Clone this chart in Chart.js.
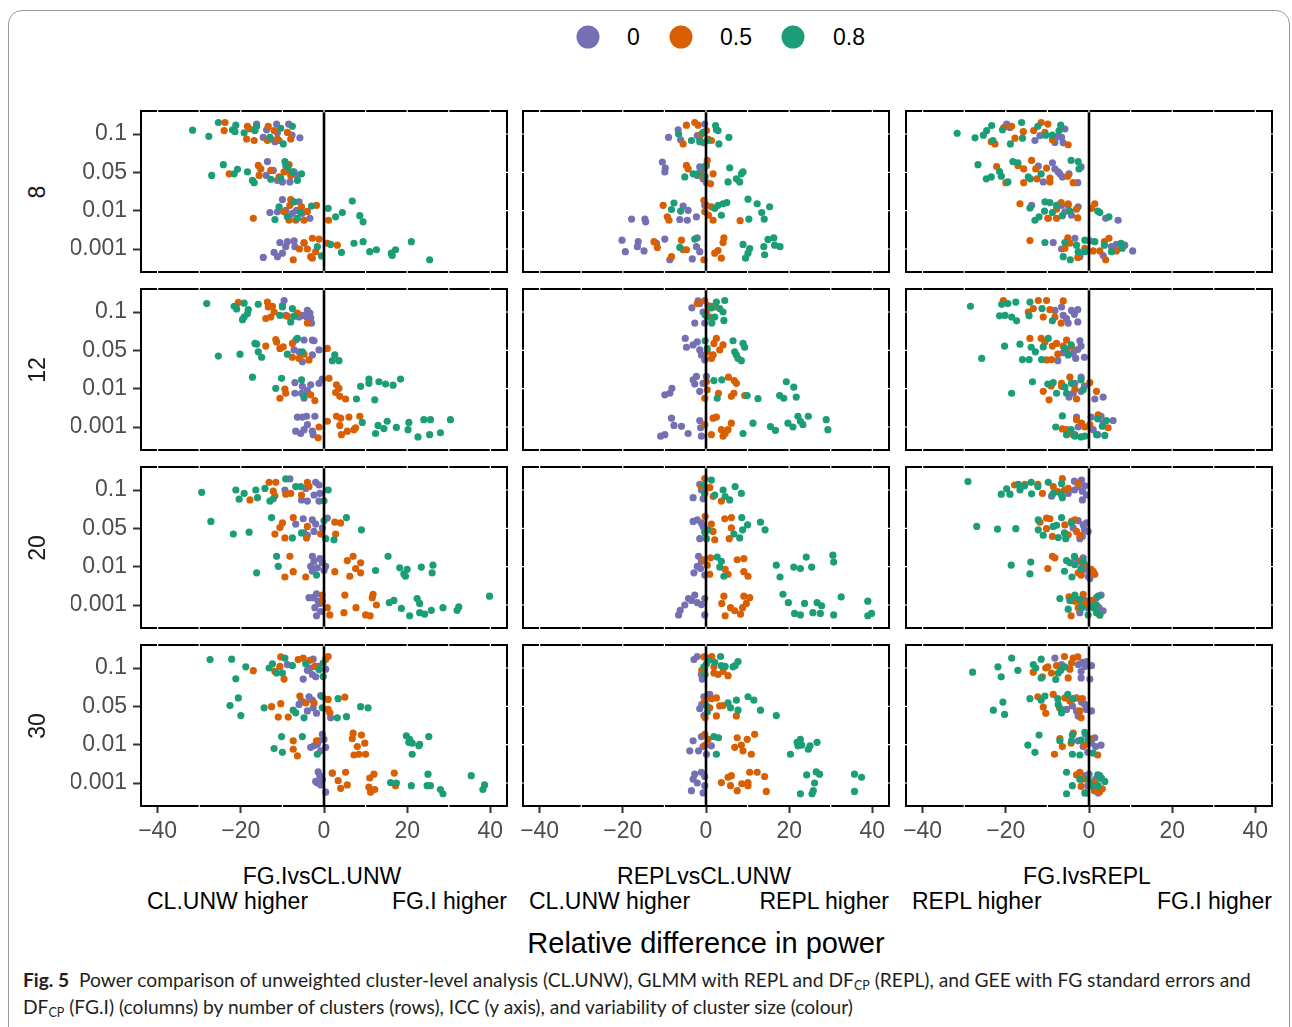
<!DOCTYPE html>
<html>
<head>
<meta charset="utf-8">
<script src="https://cdn.jsdelivr.net/npm/chart.js@4.4.1/dist/chart.umd.min.js"></script>
<style>
  body { margin: 0; width: 1292px; height: 1027px; background: #fff; position: relative; overflow: hidden;
         font-family: "Liberation Sans", Arial, sans-serif; }
  #frame { position: absolute; left: 8px; top: 10px; width: 1282px; height: 1040px; border: 1px solid #9a9a9a;
           border-radius: 14px; box-sizing: border-box; }
  canvas { position: absolute; }
  .txt { position: absolute; white-space: nowrap; line-height: 1; }
  .dot { position: absolute; width: 23px; height: 23px; border-radius: 50%; transform: translate(-50%, -50%); }
  #cap { position: absolute; left: 23px; top: 966px; font-family: Lato, "Open Sans", sans-serif; font-size: 19.2px;
         line-height: 27px; color: #231f20; white-space: nowrap; }
  #cap sub { font-size: 12.5px; vertical-align: -3px; line-height: 0; }
</style>
</head>
<body>
<div id="frame"></div>
<div id="cap"><b>Fig. 5</b>&nbsp; Power comparison of unweighted cluster-level analysis (CL.UNW), GLMM with REPL and DF<sub>CP</sub> (REPL), and GEE with FG standard errors and<br>DF<sub>CP</sub> (FG.I) (columns) by number of clusters (rows), ICC (y axis), and variability of cluster size (colour)</div>
<script>
// facets, categories and tick labels
const clusterRows = ['8', '12', '20', '30'];
const comparisons = ['FG.IvsCL.UNW', 'REPLvsCL.UNW', 'FG.IvsREPL'];
const higherLeft = ['CL.UNW higher', 'CL.UNW higher', 'REPL higher'];
const higherRight = ['FG.I higher', 'REPL higher', 'FG.I higher'];
const iccLevels = ['0.1', '0.05', '0.01', '0.001'];
const sizeGroups = ['0', '0.5', '0.8'];
const groupColours = ['#7570B3', '#D95F02', '#1B9E77'];
const xTicks = [-40, -20, 0, 20, 40];
const refLine = 0;

// points: [relative difference, jittered ICC position (1 = 0.1 ... 4 = 0.001)]
const n8_FGvsCL_cv0 = [[-16.2,0.74],[-13.8,0.89],[-14.6,1.09],[-11.4,0.74],[-11.2,0.97],[-11.8,1.2],[-8.5,0.74],[-7.7,1.03],[-5.8,1.1],[-10.8,1.17],[-12.8,1.13],
  [-13.6,1.72],[-13.9,2.08],[-12.2,1.95],[-11.2,2.21],[-10,2.25],[-8.2,2.25],[-7.2,1.99],[-9.2,1.82],[-6.4,2.08],
  [-10,2.71],[-13,3.05],[-11.2,3.03],[-9.2,2.99],[-7.6,3.07],[-6,2.77],[-5.2,3.07],[-3.4,3.2],[-6.6,2.99],[-8.4,3.16],
  [-10.6,3.83],[-8.8,3.81],[-7.2,3.79],[-9.2,3.94],[-12,4.09],[-11.2,4.2],[-10,4.11],[-14.6,4.22],[-4.8,3.85],[-7,3.94]];
const n8_FGvsCL_cv05 = [[-23.8,0.7],[-24,0.91],[-18.4,0.8],[-17.8,0.87],[-18.6,1.13],[-16.8,1.17],[-13.6,1.17],[-13.4,0.8],[-12,0.91],[-11.2,1.13],[-8,1.13],[-8.8,0.96],
  [-22.8,2.04],[-15.8,1.82],[-15.2,1.91],[-15.6,2.08],[-12.8,1.95],[-10.8,2.12],[-9.6,1.99],[-8.4,1.8],[-8,2.08],[-8.8,1.95],
  [-17,3.2],[-8,2.71],[-8.2,2.86],[-5.4,2.9],[-4,3.02],[-1.8,2.86],[1.1,3.25],[-8.4,3.25],[-6.8,3.25],[-4.8,3.25],[-9.6,3.03],
  [-2.8,3.72],[-1.2,3.74],[0.8,3.85],[3.2,3.9],[-4.8,3.83],[-5.9,4.0],[-4,4.0],[-2,4.07],[-2.8,4.24],[-3.2,4.2],[-7.4,4.28]];
const n8_FGvsCL_cv08 = [[-31.6,0.9],[-27.7,1.06],[-25.4,0.7],[-22,0.89],[-21.2,0.77],[-21.4,0.94],[-19.2,0.97],[-16.6,0.91],[-16.2,0.8],[-13,1.09],[-10.4,0.85],[-9.8,1.26],[-7.6,0.8],
  [-24.2,1.8],[-27,2.08],[-20.8,1.92],[-21.6,2.04],[-18.4,1.99],[-17.2,2.21],[-16.8,2.27],[-12.8,2.18],[-9.4,1.72],[-10.4,2.15],[-7.6,1.99],[-5.4,2.04],[-6.4,2.21],[-8.8,1.86],
  [6.8,2.75],[1,2.94],[4.4,3.05],[2.8,3.16],[8.6,3.13],[9.4,3.29],[-3,2.88],[-5.6,3.05],[-10.8,2.9],[-11.8,3.23],[-8.8,3.16],[-7.2,2.77],[-6.4,3.2],
  [-1.6,3.94],[-0.6,4.18],[1.6,3.88],[4.2,4.09],[7.2,3.85],[9.4,3.81],[11,4.07],[12.6,4.02],[16.2,4.11],[17.2,4.02],[16.4,4.17],[21,3.81],[25.4,4.28]];

const n8_REPLvsCL_cv0 = [[-9,1.09],[-6.7,0.89],[-6.1,1.15],[-2.1,1.04],[-0.3,0.74],[-0.5,1.23],[-1.5,1.13],
  [-10.5,1.73],[-9.8,1.89],[-9.9,1.99],[-1.5,1.86],[-2.1,2.08],[-0.7,2.17],[0.1,2.27],[-1.1,1.95],
  [-17.9,3.22],[-14.7,3.22],[-14.5,3.29],[-6.3,3.23],[-4.5,3.25],[-2.3,3.16],[-5.5,2.88],[-4.3,2.99],[-0.3,2.86],
  [-20.2,3.77],[-19.4,4.07],[-16.3,3.81],[-16.5,3.94],[-14.9,4.05],[-9.9,3.74],[-11.9,3.85],[-8.7,4.28],[-3.3,4.26],[-2.1,3.71],[-2.3,3.94],[-1.5,4.07]];
const n8_REPLvsCL_cv05 = [[-4.7,0.77],[-2.7,0.7],[-1.9,0.77],[0.5,1.13],[1.3,1.17],[-5.5,1.26],[-1.1,1.0],[0.1,0.91],
  [-4.7,1.82],[-4.3,1.91],[0.3,1.69],[0.1,1.82],[1.7,2.04],[1.1,2.3],[-1.1,2.08],
  [-10.3,2.86],[-9.3,3.16],[-8.9,3.25],[-0.5,2.73],[0.1,2.86],[-0.3,3.03],[0.6,3.12],[1.7,3.25],[8.2,3.26],[1.3,2.9],
  [-12.5,3.81],[-11.7,3.96],[-8.3,4.2],[-5.9,3.77],[-5.5,4.02],[-0.5,4.28],[2.1,4.11],[2.9,4.04],[3.7,4.24],[4.3,3.71],[4.1,3.83],[-4.7,4.02]];
const n8_REPLvsCL_cv08 = [[-6.6,1.0],[-3.5,1.17],[-1.5,1.2],[-0.7,0.96],[0.3,1.17],[2.3,0.78],[2.9,0.91],[3.1,1.26],[5.5,1.09],[2.5,0.88],
  [-5.1,2.12],[-3.1,2.04],[-2.1,2.04],[-0.2,1.84],[-0.2,2.11],[5.7,1.88],[5.3,2.25],[7.3,2.17],[8.1,2.25],[8.5,2.04],[8.9,1.99],
  [-7.7,2.8],[-8.3,2.97],[-6.1,3.01],[2.1,2.94],[2.9,2.86],[4.1,2.82],[5,2.79],[3.7,3.12],[10.1,2.7],[12.3,2.82],[15.3,2.9],[13.4,3.05],[14,3.22],[10.3,3.22],
  [-6.3,3.96],[-2.7,3.74],[8.9,3.88],[10.5,3.99],[9.5,4.24],[10.1,4.11],[13.9,3.94],[14.1,4.15],[14.9,3.75],[16.3,3.71],[16.5,3.9],[17.8,3.94]];

const n8_FGvsREPL_cv0 = [[-19.8,0.74],[-19,0.83],[-13,1.17],[-11.8,1.04],[-8.2,1.22],[-7.4,1.06],[-6.6,1.09],[-5.8,0.87],[-6.2,1.23],
  [-12.2,1.84],[-8.8,1.75],[-8.2,1.91],[-7,2.04],[-6.4,2.12],[-4.8,2.04],[-2.7,2.27],[-11,2.25],[-1.9,1.86],[-7.4,1.99],
  [-13.8,2.86],[-9.8,3.2],[-6.6,2.86],[-5,2.86],[-2.6,2.9],[-4.2,3.12],[4,3.2],[7,3.25],[-5.8,3.03],
  [-8.6,3.83],[-6.6,4.0],[-3.4,3.72],[-2.2,4.2],[0.2,3.79],[3.4,4.17],[5.4,3.94],[6.6,3.88],[10.5,4.05],[8.6,3.9]];
const n8_FGvsREPL_cv05 = [[-23.5,1.2],[-22.6,1.26],[-20.5,0.83],[-18.6,0.8],[-17.8,1.11],[-15.8,0.94],[-13.3,0.91],[-11.5,0.7],[-9.9,0.74],[-8.8,1.15],[-5,1.28],[-10.6,0.96],
  [-22.2,1.85],[-20,2.27],[-17.1,1.82],[-15.7,1.91],[-15.7,2.27],[-13.8,1.69],[-12.8,1.91],[-12.5,2.17],[-10.2,1.89],[-9.4,2.15],[-9.4,2.25],[-5.1,2.1],[-3.8,2.27],
  [-16.6,2.82],[-9.9,3.2],[-7.8,3.2],[-6.7,2.79],[-5,2.82],[-7.8,2.96],[-3,2.96],[-2.7,3.19],[0.6,2.94],[1.4,2.82],
  [-14.2,3.78],[-5.1,3.71],[-5.8,3.98],[-2.7,4.22],[-1,3.98],[1,4.05],[2.6,4.05],[3.7,3.81],[4,4.28],[4.8,3.72],[6.6,4.05],[-4.6,3.85]];
const n8_FGvsREPL_cv08 = [[-31.7,0.98],[-27.4,1.1],[-25.4,1.03],[-24.6,0.91],[-23.4,0.78],[-23.1,1.17],[-20.8,0.89],[-18.9,1.26],[-16.2,0.7],[-16,1.11],[-12.3,0.8],[-10.4,1.03],[-8.8,1.03],[-6.8,0.77],[-7.2,0.91],
  [-26.7,1.8],[-24.7,2.17],[-23.5,2.12],[-21.5,1.98],[-21.1,2.1],[-19.5,2.25],[-18.3,1.72],[-17.1,1.75],[-14.6,2.12],[-11.5,2.04],[-4.3,1.69],[-2.6,1.72],[-2.4,1.91],[-14.1,2.17],
  [-14.2,2.93],[-13,3.25],[-12,3.16],[-10.6,2.77],[-9.4,2.79],[-10.7,3.01],[-8.8,3.05],[-6.4,3.13],[-4.6,3.01],[2.1,3.01],[2.6,3.05],[4.8,3.16],[-7.8,2.86],
  [-10.6,3.83],[-6.2,4.2],[-5.8,3.83],[-4.5,4.28],[-3,3.9],[-2.6,4.07],[-1,3.77],[1.4,3.81],[3.7,3.9],[5.4,4.07],[7.7,3.85],[8,3.98],[-1,4.07]];

const n12_FGvsCL_cv0 = [[-9.6,0.7],[-10,0.83],[-9.2,1.09],[-6,1.13],[-5.2,1.09],[-4,0.96],[-3.4,1.03],[-3.2,1.15],[-3,1.29],[-4.2,1.13],
  [-6.8,1.73],[-6,2.04],[-4.8,1.73],[-2.8,1.73],[-2.4,1.75],[-5.2,2.3],[-2.8,2.12],[-1.2,1.99],[-7.2,1.99],
  [-7,2.84],[-7,3.12],[-5.2,2.94],[-4.8,3.25],[-3.2,2.9],[-1.2,2.86],[-0.4,2.75],[-4,3.05],[-5.4,3.12],
  [-6.4,3.74],[-5.2,3.74],[-4.2,3.72],[-2.2,3.72],[-6.8,4.11],[-5.6,4.17],[-4,3.94],[-2.8,4.11],[-4.8,4.07],[-2.6,4.2]];
const n12_FGvsCL_cv05 = [[-20.6,0.75],[-13.6,0.74],[-13.4,0.87],[-12.4,0.85],[-14,1.17],[-12.8,1.13],[-12,1.0],[-8.8,1.11],[-6.4,1.03],[-4,1.29],
  [-14,1.89],[-11.6,1.72],[-11.4,1.78],[-10.6,1.95],[-9.8,1.91],[-7.6,1.82],[-7.6,2.18],[-6,2.21],[-4.8,2.1],[-3.6,2.25],[0.8,1.95],
  [1.2,2.73],[3,2.9],[3.6,2.99],[2.8,3.1],[3.8,3.2],[5.2,3.27],[-9.4,3.01],[-10.6,3.25],[-9.2,3.12],[-3.2,3.16],[-2.2,3.31],
  [-1.2,4.0],[-1.4,4.28],[0.8,3.85],[3,3.72],[4,3.77],[3.8,3.96],[4.2,4.2],[6,3.74],[5.6,4.11],[7.2,4.07],[8.6,3.72],[7.6,4.02]];
const n12_FGvsCL_cv08 = [[-28.2,0.78],[-21.6,0.85],[-21,0.92],[-19.2,0.77],[-18.2,0.94],[-18.4,1.04],[-19.2,1.13],[-19.6,1.2],[-15.8,0.8],[-10.6,1.09],[-10,0.87],[-7.6,0.91],[-8,1.26],[-7.2,1.11],
  [-25.4,2.15],[-20.2,2.1],[-16.6,1.82],[-16.2,1.84],[-15.8,2.04],[-15,2.18],[-8.8,2.1],[-6.4,1.69],[-5.2,2.04],[2,2.27],[2.6,2.12],[3.6,2.27],
  [-17.2,2.7],[-11.6,2.99],[-10.2,2.73],[-5.4,2.77],[8.8,2.94],[7.8,3.27],[10.8,2.75],[10.8,2.86],[12.2,3.29],[13.2,2.82],[14.8,2.88],[16.6,2.91],[18.4,2.75],[-4.8,3.2],
  [9.2,3.88],[12.4,4.17],[13,3.96],[14.4,4.04],[15.2,3.85],[17.4,4.01],[20.4,3.88],[20.2,4.07],[22.6,4.26],[24,3.81],[25.6,3.81],[25.4,4.2],[28,4.15],[30.4,3.81]];

const n12_REPLvsCL_cv0 = [[-1.9,0.71],[-3.4,0.89],[-2.7,1.29],[-0.3,1.29],[-0.7,1.0],[-1.5,0.78],
  [-5,1.69],[-4.7,1.92],[-3.1,1.86],[-1.5,1.99],[-1.1,2.12],[-0.3,2.25],[-2.1,1.78],
  [-9.9,3.16],[-8.7,3.12],[-8.2,2.99],[-3.1,2.77],[-2.3,2.68],[-2.7,2.88],[-1.5,3.07],[0.1,2.68],[-0.7,2.86],
  [-10.9,4.24],[-9.9,4.2],[-8.3,3.77],[-7.7,3.96],[-5.9,3.98],[-4.3,4.17],[-1.5,3.83],[-1.3,4.02],[-1.1,4.24]];
const n12_REPLvsCL_cv05 = [[-2.1,0.78],[-0.3,0.7],[0.5,0.83],[1.3,0.85],[0.1,1.0],[2.1,0.87],[0.9,1.13],
  [0.3,2.04],[1.7,2.12],[1.9,1.82],[2.5,1.69],[3.3,1.99],[4.1,1.86],[1.3,2.21],
  [0.1,2.82],[0.3,3.03],[-0.3,3.25],[3,3.12],[5.4,2.7],[6.8,2.79],[6.7,3.12],[6.1,3.2],[9.3,3.18],[7.3,2.86],
  [-0.3,3.94],[1.3,4.2],[1.7,3.77],[2.5,3.74],[3.7,4.07],[4.1,4.24],[5.3,4.07],[6.1,3.9],[4.6,4.17]];
const n12_REPLvsCL_cv08 = [[-0.2,1.08],[0.3,1.13],[1.4,1.29],[2.1,1.13],[2.5,0.74],[3.3,0.91],[4.1,1.0],[4.5,0.7],[4.3,1.22],[1.3,0.89],
  [-0.2,1.75],[0.3,1.95],[6.5,1.75],[8.9,1.82],[9.3,1.92],[7.3,2.12],[7.7,2.21],[8.5,2.27],[6.9,2.04],
  [1.9,2.79],[3.8,2.77],[2.7,3.25],[9.9,3.18],[12.5,3.26],[17.7,3.18],[18.7,3.25],[19.3,2.82],[21.1,2.96],[21.7,3.22],
  [8.9,4.17],[11.3,3.9],[15.5,3.99],[16.7,4.09],[19.7,3.9],[20.9,4.0],[22.1,3.72],[22.7,3.85],[23.3,3.94],[24.6,3.72],[28.9,3.81],[29.3,4.07]];

const n12_FGvsREPL_cv0 = [[-8.2,0.96],[-6.6,0.87],[-6.2,1.09],[-5,1.29],[-4.2,0.96],[-3.5,1.06],[-2.7,0.94],[-2.7,1.26],[-5.4,1.17],
  [-7.5,2.27],[-6.2,2.06],[-5.4,1.99],[-3.2,2.21],[-2.7,1.98],[-2.2,1.75],[-1.9,1.89],[-1.1,2.18],[-3.8,2.08],
  [-4.8,3.22],[-3.4,2.86],[-1.9,2.7],[-1.9,3.07],[-1.1,2.93],[1.4,3.27],[3.4,3.22],[-3.8,3.12],
  [-3,3.74],[-2.6,4.0],[0.5,3.74],[1,4.07],[2.1,4.2],[2.9,3.72],[3.4,3.9],[5.8,3.83],[-3.4,4.2]];
const n12_FGvsREPL_cv05 = [[-20.6,0.7],[-14.6,1.0],[-13.4,0.91],[-12.2,0.7],[-10.2,0.7],[-11,1.13],[-9.4,0.94],[-8.2,1.13],[-6.7,1.29],[-6.2,0.71],
  [-14.2,1.69],[-11.5,1.69],[-10.6,1.78],[-10.2,2.25],[-9,2.24],[-8.8,1.89],[-7.5,2.1],[-6.2,1.89],[-5.4,1.73],[-4.2,1.91],[-7.8,1.82],
  [-11,3.07],[-9.6,3.29],[-9.1,2.93],[-6.6,2.94],[-4.6,2.7],[-3.4,3.01],[-3,3.27],[0.2,2.84],[1.8,3.07],[-6.6,2.86],
  [-6.4,4.05],[-3.8,4.2],[-3,3.81],[-1.8,3.9],[-1,4.0],[0.2,3.94],[2.2,3.68],[4.6,4.02],[-5.4,4.07]];
const n12_FGvsREPL_cv08 = [[-28.5,0.85],[-21,0.8],[-19.5,0.78],[-17.6,0.74],[-21.5,1.1],[-20.2,1.09],[-18.6,1.13],[-17.4,1.23],[-14.2,0.74],[-11.3,0.91],[-8.8,1.23],[-14.4,1.1],
  [-25.8,2.21],[-20.3,1.89],[-16.6,1.84],[-16,2.24],[-14.4,2.24],[-13.9,1.92],[-12.9,2.04],[-11.4,2.24],[-11,1.91],[-9.8,1.69],[-5.9,1.95],[-5,2.12],[-4.3,1.86],
  [-18.6,3.12],[-13.6,2.82],[-9.9,2.88],[-8.6,2.84],[-7.8,3.12],[-5.4,3.12],[-4.2,2.86],[-1.9,2.77],[-1.4,3.03],[-5.8,2.96],
  [-8,4.0],[-6.4,3.71],[-5.4,4.2],[-4.3,4.07],[-3.4,4.24],[-1.9,4.26],[-1,4.24],[1.8,4.2],[3.2,3.98],[4.2,3.83],[3.8,4.22],[2.1,3.79]];

const n20_FGvsCL_cv0 = [[-8.2,0.71],[-9.4,1.0],[-5.4,1.26],[-4,1.29],[-2.4,1.13],[-2,0.8],[-1.2,0.87],[-1,1.09],[-1.2,1.29],[-4.4,0.96],
  [-6.8,1.89],[-5,1.75],[-4.8,2.12],[-2.8,1.78],[-2.4,2.08],[-2,1.89],[-0.4,1.99],[0.8,1.73],[-4,2.18],
  [-2.8,2.73],[-2.4,2.86],[-1.6,3.03],[-2.8,3.12],[-0.4,2.9],[0,3.1],[-1,2.79],[-3.2,2.99],[0.4,2.99],
  [-3.6,3.81],[-2.6,3.81],[-1.8,3.71],[-2.2,4.07],[-1,3.96],[-1.8,4.28],[-0.8,4.17],[-1.4,3.9]];
const n20_FGvsCL_cv05 = [[-17.8,1.26],[-13.2,0.8],[-11.6,0.8],[-12.2,1.03],[-11.8,1.15],[-9.2,1.11],[-8,1.09],[-5.4,1.13],[-4,0.8],[-3.6,0.91],
  [-11.8,2.15],[-10.6,1.98],[-10,1.86],[-9.4,2.25],[-7.4,1.72],[-4,1.95],[-4.2,2.25],[-0.8,2.15],[2.6,1.84],[4,1.86],[2.8,2.15],
  [-9.4,3.27],[-8.2,2.73],[-7.4,3.13],[-4.4,3.27],[2.6,3.13],[5.6,2.84],[7,2.73],[7.6,3.05],[8.8,2.9],[8.8,3.16],[6.2,3.25],
  [-0.4,3.74],[-0.4,3.9],[0.8,4.07],[1.4,4.26],[5,3.74],[4.8,4.2],[7.7,4.07],[11.8,3.72],[11.6,3.81],[12.6,4.0],[10,4.26],[11.1,4.28]];
const n20_FGvsCL_cv08 = [[-29.4,1.06],[-21.2,1.0],[-20.4,1.24],[-19.2,1.09],[-16.4,1.0],[-16,1.2],[-14.2,0.96],[-13,1.29],[-12.2,1.23],[-9.2,0.71],[-6.8,0.91],[-5.6,0.91],[0,1.28],[1,1.0],
  [-27.2,1.82],[-21.8,2.15],[-18,2.1],[-12.6,1.72],[-7.6,2.25],[-5.4,2.12],[0,1.8],[0.4,2.27],[2.4,2.3],[5.4,1.72],[9,2.04],
  [-16.2,3.16],[-11.4,2.73],[-11,2.99],[-1.8,3.22],[12.4,3.1],[15.4,2.73],[18.2,3.03],[19.2,3.19],[20,3.07],[19.6,3.25],[23.4,3.01],[26,3.16],[26.2,2.96],
  [15.7,3.94],[16.8,3.88],[18.6,4.09],[20.6,4.28],[22.4,3.83],[23,3.96],[23,4.2],[24.2,4.24],[25.8,4.14],[28.6,4.07],[32,4.14],[32.4,4.05],[39.8,3.77]];

const n20_REPLvsCL_cv0 = [[-1.5,0.85],[-1.1,1.0],[-3.1,1.2],[-0.7,1.23],[-0.3,1.09],
  [-3.1,1.82],[-2.1,1.78],[-1.1,1.86],[-1.5,2.27],[-0.3,2.08],[-0.7,1.95],
  [-1.8,2.73],[-2.1,2.99],[-2.9,3.16],[-1.3,3.05],[-0.3,3.22],[-1.1,2.86],
  [-6.6,4.26],[-6.2,4.14],[-5.1,4.0],[-4.2,3.83],[-2.7,3.74],[-2.1,3.94],[-1.1,3.99],[-0.3,3.83],[-0.3,4.26],[-3.5,3.88]];
const n20_REPLvsCL_cv05 = [[-0.3,0.7],[0.9,0.94],[1.7,1.17],[3.7,1.29],[-1.1,0.91],
  [-0.2,1.69],[1.3,1.89],[2.1,2.3],[4.5,1.75],[6.1,1.72],[6.1,1.99],[5.6,2.27],[1.7,2.08],
  [-0.5,2.82],[0.3,2.96],[0.9,3.2],[4.6,3.07],[5.3,3.2],[7.5,2.82],[9.1,2.79],[9.1,3.13],[10.1,3.25],[1.1,2.77],
  [4.3,3.77],[3.8,3.96],[4.6,4.28],[5.9,4.07],[6.9,4.15],[8.3,4.24],[9.1,3.77],[9.7,3.96],[10.5,3.81],[8.8,4.07]];
const n20_REPLvsCL_cv08 = [[-0.5,0.87],[1.3,0.74],[2.1,1.13],[4.1,1.0],[4.6,1.17],[5.7,1.26],[7,0.91],[8.5,1.09],[-0.3,1.09],
  [-0.2,2.12],[0.5,2.04],[0.1,2.27],[6.7,2.15],[8.1,2.25],[8.6,1.72],[8.8,2.04],[10,1.91],[13.1,1.84],[14.2,2.04],
  [2.7,2.75],[3.7,2.86],[3.3,3.01],[4.3,3.25],[16.9,2.96],[17.8,3.27],[21.1,3.01],[22.7,3.05],[24.1,2.75],[25.4,3.01],[30.5,2.7],[30.7,2.88],
  [18.5,3.72],[19.8,3.94],[21.3,4.22],[22.7,4.26],[23.7,3.96],[25.7,4.2],[26.7,3.94],[27.8,4.02],[27.5,4.22],[30.7,4.26],[32.5,3.79],[38.9,3.9],[38.9,4.28],[39.8,4.22]];

const n20_FGvsREPL_cv0 = [[-9,1.16],[-5,1.09],[-3.5,0.77],[-2.6,0.91],[-1.8,0.74],[-1.6,1.03],[-1,0.89],[-0.6,1.13],[-1.6,1.26],[-3.5,1.0],
  [-3.8,1.99],[-2.6,1.8],[-1.4,1.91],[-1.1,2.04],[-0.6,1.86],[-0.2,2.08],[-1.6,2.21],[-2.2,2.27],
  [-3.4,2.77],[-2.6,2.86],[-1.4,2.77],[-1,2.95],[-0.6,3.07],[-0.2,3.25],[0.2,3.31],[-1.8,3.12],
  [-2.2,4.2],[-1,3.88],[-0.3,4.07],[0.5,3.94],[1.8,3.81],[2.4,4.07],[3.4,4.15],[2.9,3.74],[-1.8,3.96]];
const n20_FGvsREPL_cv05 = [[-17.9,0.87],[-15.4,0.85],[-12.3,0.85],[-11.2,1.09],[-8.6,0.91],[-7.5,1.04],[-6.4,0.7],[-5.9,1.0],[-5,0.96],[-2.6,0.83],
  [-11.8,1.84],[-10.2,1.73],[-9.4,1.75],[-10.2,2.01],[-8.8,2.21],[-5.8,1.91],[-4.2,1.82],[-3.4,1.78],[-5,2.17],[-2.2,2.18],[-3,2.08],
  [-9.9,3.05],[-8.8,2.73],[-8.2,2.77],[-1.9,3.22],[-1.8,2.84],[-1.4,2.96],[0.5,3.07],[1.4,3.2],[1,3.12],[-2.6,3.16],
  [-4.8,3.79],[-4.3,4.28],[-2.6,4.07],[-1.4,3.72],[-0.8,3.96],[0.6,3.88],[1.8,4.0],[2.6,4.26],[-3.4,3.9]];
const n20_FGvsREPL_cv08 = [[-29.1,0.78],[-21.1,1.11],[-19.8,0.97],[-19,1.11],[-17,0.85],[-16.6,1.0],[-15.5,0.89],[-13.9,0.8],[-13.8,1.1],[-12.3,0.91],[-9.8,0.8],[-8.6,1.09],[-6.6,0.83],[-6.4,1.2],[-6.7,1.11],
  [-27,1.95],[-22,2.02],[-17.6,2.01],[-12.2,1.78],[-12.2,2.04],[-11,2.18],[-8.6,1.95],[-7.8,1.92],[-6.6,1.72],[-7.4,2.24],[-5.9,2.12],[-5.6,2.27],[-4.2,1.86],
  [-18.7,2.96],[-14,2.88],[-14.2,3.19],[-5.9,3.12],[-5.4,2.84],[-4.6,2.9],[-4.1,3.27],[-3.5,2.73],[-3.4,2.95],[-1.9,3.05],[-1.4,2.86],
  [-7,3.83],[-5,4.11],[-4.6,3.88],[-3.4,3.74],[-2.2,3.85],[-1.8,4.07],[-0.2,4.26],[1,4.07],[1.6,3.99],[2.2,3.77],[2.6,4.26],[1.8,4.2]];

const n30_FGvsCL_cv0 = [[-8.8,0.91],[-5,1.29],[-4,1.06],[-2.8,1.17],[-2,1.23],[-1.4,0.96],[0.4,1.03],[-2.6,0.77],[-3.4,1.0],
  [-6,1.95],[-5.4,1.86],[-3.6,1.75],[-2.8,1.84],[-2.6,2.04],[-1.8,2.18],[-0.8,1.72],[1.6,2.3],[-4,2.12],
  [-3.2,3.07],[-2.4,3.03],[-1.6,2.99],[-0.4,2.73],[0,2.86],[0.4,3.07],[-0.8,3.16],[-1.2,2.9],
  [-1.4,3.71],[-1,3.81],[-1.6,4.0],[-2,3.96],[-0.4,3.9],[0.4,4.24],[2,3.74],[-0.8,4.05]];
const n30_FGvsCL_cv05 = [[-17,1.07],[-10.4,0.71],[-11.8,1.09],[-9.6,1.29],[-10.6,0.96],[-6.2,0.78],[-5,0.74],[-3.4,0.8],[-2.2,0.96],[0.4,0.77],[1,0.7],
  [-12.6,2.01],[-10.4,1.93],[-11,2.28],[-8.6,2.28],[-5.8,1.73],[-4.4,1.91],[-2.4,1.91],[1,1.82],[1,2.08],[1.4,2.17],[5,1.76],
  [-7.4,2.9],[-7.4,3.12],[-6.4,3.29],[-1.8,2.9],[7,2.7],[6.8,2.84],[9,2.75],[8,3.05],[7.2,3.27],[8.4,3.25],[9.8,2.96],[10,3.25],
  [2,3.74],[3.4,3.94],[4,4.14],[5.2,3.72],[5.6,4.05],[11,3.87],[10.8,4.11],[11.2,4.24],[12,3.77],[12.2,4.17],[16.9,3.74],[17.2,4.07]];
const n30_FGvsCL_cv08 = [[-27.4,0.78],[-22.2,0.77],[-18.8,0.97],[-21.2,1.28],[-13.2,1.0],[-12.4,0.89],[-11.4,1.13],[-10,1.13],[-9.4,0.74],[-7.6,0.94],[-4.4,0.89],[-1.2,1.04],[-0.2,1.22],[-0.2,0.87],
  [-22.6,1.98],[-20.6,1.78],[-20,2.24],[-14.4,2.04],[-7.4,2.1],[-6.8,2.17],[-4.8,2.3],[-0.4,2.04],[-0.4,1.75],[3.2,2.3],[3.4,1.8],[5.4,2.27],[8.8,2.01],[10.6,2.04],
  [-12,3.1],[-10,3.2],[-10.2,2.79],[-5.2,2.79],[-1.6,3.25],[19.8,2.77],[20.6,2.86],[21.2,2.96],[21.2,3.25],[22.8,3.03],[23,2.99],[25.2,2.79],[20.4,2.94],
  [16,3.99],[17.4,4.0],[21,4.07],[25,3.77],[24.8,4.07],[25.6,4.07],[28,4.17],[28.6,4.28],[35.4,3.81],[38.6,4.05],[38.2,4.17]];

const n30_REPLvsCL_cv0 = [[-2.9,0.78],[-2.1,0.7],[-1.1,1.17],[-0.9,1.29],[-0.3,1.04],
  [-1.5,2.06],[-1,1.95],[-0.5,1.75],[0.9,1.69],[-0.5,2.24],
  [-3.9,3.16],[-1.8,3.16],[-1.1,2.79],[-0.7,3.05],[0.1,3.25],[1.3,3.03],[-3.1,2.9],
  [-3.5,4.2],[-3.1,3.9],[-2.7,3.77],[-2.1,4.0],[-1.1,3.72],[-0.3,3.83],[-0.3,4.07],[-0.7,4.26]];
const n30_REPLvsCL_cv05 = [[-0.5,0.71],[0.5,0.74],[1.4,0.7],[1.9,0.97],[1.9,1.13],[2.9,1.17],[4.1,1.09],[5.3,1.2],[-1,1.06],
  [-0.3,1.86],[1.3,1.8],[0.9,2.04],[2.5,2.25],[3.3,1.99],[4.1,1.98],[7.3,2.25],[2.5,1.78],[-0.2,2.3],
  [-0.3,2.73],[0.5,2.86],[-0.2,3.01],[6.9,3.07],[7.5,2.82],[8.5,3.01],[8.9,3.16],[9.9,2.86],[10.9,3.25],[11.7,2.73],
  [3.7,3.99],[5.3,3.85],[6.1,3.81],[5.9,4.07],[7.5,4.2],[8.6,4.02],[10.1,4.07],[10.5,3.72],[12.3,3.72],[14.1,3.83],[14.5,4.22],[10.1,3.99]];
const n30_REPLvsCL_cv08 = [[-0.5,0.97],[-0.2,1.17],[0.6,0.8],[2.1,0.85],[3.5,0.7],[3.7,0.94],[4.6,0.96],[6.5,0.97],[7,0.94],[7.7,0.83],[0.1,0.89],
  [0.3,2.15],[0.1,1.98],[5.3,1.91],[5.9,2.04],[7.7,2.1],[7.3,1.84],[10.1,1.75],[11.5,1.84],[13.1,2.1],[16.9,2.24],
  [1.9,2.79],[3,2.82],[2.5,3.25],[20.3,3.25],[21.9,2.94],[22.7,2.86],[23,3.01],[24.6,3.12],[25,3.03],[26.7,2.94],[22.1,3.03],
  [22.7,4.28],[24.2,3.79],[25.8,4.2],[26.1,4.0],[26.5,3.71],[27.3,3.77],[25.5,4.28],[35.7,3.77],[37.4,3.85],[35.7,4.22]];

const n30_FGvsREPL_cv0 = [[-8.2,0.74],[-6.6,0.91],[-2.6,0.91],[-1.9,1.09],[-1.6,0.85],[-1,0.96],[-0.6,0.83],[0.2,1.29],[0.6,0.94],[-1.9,1.26],
  [-5.4,2.08],[-4,1.99],[-3,2.12],[-1.8,1.89],[-1,1.95],[-0.6,2.08],[0.6,2.12],[-2.6,2.25],
  [-2.6,2.9],[-1.4,3.05],[-0.8,2.73],[-0.3,3.2],[1.4,2.82],[1.6,3.05],[2.9,3.01],[0.6,2.96],
  [-1,3.81],[-0.6,4.26],[0,3.77],[0.6,4.0],[1.6,3.9],[2.6,3.81],[2.2,4.26],[-0.3,4.07]];
const n30_FGvsREPL_cv05 = [[-13.4,1.11],[-11.2,1.23],[-10.4,1.0],[-9.9,0.97],[-9,1.13],[-7.8,0.94],[-5.9,0.7],[-5,1.26],[-4.6,1.03],[-3.8,0.74],[-2.7,0.71],[-4.2,0.87],
  [-12.3,1.75],[-11,2.02],[-10.4,2.18],[-8.6,1.69],[-7.1,2.04],[-5.8,1.78],[-4.6,1.86],[-3,1.78],[-2.2,2.12],[-1.9,2.3],[-1.6,1.8],
  [-8.3,3.25],[-7,2.84],[-6.4,3.05],[-4.3,2.96],[-3.8,2.7],[-1,3.01],[0.2,2.84],[2.1,3.27],
  [-3,3.79],[-2.2,3.72],[-1.9,4.09],[-1.4,3.9],[1.3,4.2],[2.6,4.22],[3.2,4.15],[1.4,3.99]];
const n30_FGvsREPL_cv08 = [[-28,1.11],[-21.9,0.97],[-21.1,1.23],[-18.6,0.74],[-17.1,1.06],[-13.4,0.91],[-12.8,1.0],[-11.5,0.77],[-11.5,1.26],[-8,1.3],[-7.4,1.13],[-6.8,1.06],[-5.8,0.97],
  [-23,2.1],[-20.7,1.89],[-20.3,2.21],[-14.2,1.8],[-11.5,1.84],[-10.6,1.73],[-7.5,1.8],[-6.7,2.08],[-6.6,2.17],[-5.1,1.69],[-3.8,1.8],[-7.4,1.95],
  [-14.7,3.01],[-13,3.2],[-12,2.75],[-7,2.9],[-4,2.75],[-4.2,2.9],[-4,3.25],[-2.2,3.27],[-1.9,2.88],[-1,2.68],[1,3.22],[-0.2,2.86],
  [-5.4,3.72],[-4,4.07],[-5.4,4.28],[-2.2,3.9],[-0.2,3.9],[0.6,4.07],[2.1,3.79],[2.2,4.07],[3,3.88],[3.8,3.96],[-1,4.26]];

// rows = number of clusters, columns = comparison
const panelData = [
  [[n8_FGvsCL_cv0, n8_FGvsCL_cv05, n8_FGvsCL_cv08], [n8_REPLvsCL_cv0, n8_REPLvsCL_cv05, n8_REPLvsCL_cv08], [n8_FGvsREPL_cv0, n8_FGvsREPL_cv05, n8_FGvsREPL_cv08]],
  [[n12_FGvsCL_cv0, n12_FGvsCL_cv05, n12_FGvsCL_cv08], [n12_REPLvsCL_cv0, n12_REPLvsCL_cv05, n12_REPLvsCL_cv08], [n12_FGvsREPL_cv0, n12_FGvsREPL_cv05, n12_FGvsREPL_cv08]],
  [[n20_FGvsCL_cv0, n20_FGvsCL_cv05, n20_FGvsCL_cv08], [n20_REPLvsCL_cv0, n20_REPLvsCL_cv05, n20_REPLvsCL_cv08], [n20_FGvsREPL_cv0, n20_FGvsREPL_cv05, n20_FGvsREPL_cv08]],
  [[n30_FGvsCL_cv0, n30_FGvsCL_cv05, n30_FGvsCL_cv08], [n30_REPLvsCL_cv0, n30_REPLvsCL_cv05, n30_REPLvsCL_cv08], [n30_FGvsREPL_cv0, n30_FGvsREPL_cv05, n30_FGvsREPL_cv08]]
];

// page geometry
const colLeft = [141, 523, 906];
const rowTop = [111, 289, 467, 645];
const panelW = 366, panelH = 161;
const axisW = 70, axisH = 45, padR = 30, padT = 4;
const xMin = -44, xMax = 44, yMin = 0.4, yMax = 4.6;
const fontFam = '"Liberation Sans", Arial, sans-serif';
const markSteps = [-40, -30, -20, -10, 0, 10, 20, 30, 40];

const addText = (text, x, y, opts = {}) => {
  const d = document.createElement('div');
  d.className = 'txt';
  d.textContent = text;
  d.style.left = x + 'px';
  d.style.top = y + 'px';
  d.style.fontSize = (opts.size || 23) + 'px';
  d.style.color = opts.color || '#000';
  d.style.transform = opts.transform || 'translate(-50%, -50%)';
  document.body.appendChild(d);
  return d;
};

// black panel frame with the small white ticks crossing it
const panelFrame = {
  id: 'panelFrame',
  afterDatasetsDraw(chart, args, opts) {
    const { ctx, chartArea: a, scales: { x, y } } = chart;
    ctx.save();
    ctx.strokeStyle = '#000';
    ctx.lineWidth = 2;
    ctx.strokeRect(a.left, a.top, a.right - a.left, a.bottom - a.top);
    ctx.strokeStyle = '#fff';
    ctx.lineWidth = 1.2;
    ctx.beginPath();
    markSteps.forEach(v => {
      const px = x.getPixelForValue(v);
      ctx.moveTo(px, a.top - 1.5); ctx.lineTo(px, a.top + 1.5);
      if (!(opts.lastRow && v % 20 === 0)) { ctx.moveTo(px, a.bottom - 1.5); ctx.lineTo(px, a.bottom + 1.5); }
    });
    iccLevels.forEach((_, i) => {
      const py = y.getPixelForValue(i + 1);
      ctx.moveTo(a.right - 1.5, py); ctx.lineTo(a.right + 1.5, py);
      if (!opts.firstCol) { ctx.moveTo(a.left - 1.5, py); ctx.lineTo(a.left + 1.5, py); }
    });
    ctx.stroke();
    ctx.restore();
  }
};

const makePanel = (r, c) => {
  const canvas = document.createElement('canvas');
  canvas.width = axisW + panelW + padR;
  canvas.height = padT + panelH + axisH;
  canvas.style.left = (colLeft[c] - axisW) + 'px';
  canvas.style.top = (rowTop[r] - padT) + 'px';
  document.body.appendChild(canvas);
  const firstCol = c === 0;
  const lastRow = r === clusterRows.length - 1;
  const series = panelData[r][c];
  new Chart(canvas, {
    type: 'scatter',
    data: {
      datasets: [
        { data: [{ x: refLine, y: yMin }, { x: refLine, y: yMax }], showLine: true, borderColor: '#000',
          borderWidth: 2.6, pointRadius: 0, order: 0 },
        ...series.map((pts, i) => ({
          label: sizeGroups[i],
          data: pts.map(([x, y]) => ({ x, y })),
          backgroundColor: groupColours[i],
          borderWidth: 0,
          pointRadius: 3.6,
          order: 3 - i
        }))
      ]
    },
    options: {
      responsive: false,
      animation: false,
      layout: { padding: { top: padT, right: padR, left: 0, bottom: 0 } },
      plugins: { legend: { display: false }, tooltip: { enabled: false }, panelFrame: { firstCol, lastRow } },
      scales: {
        x: {
          type: 'linear', min: xMin, max: xMax,
          afterBuildTicks: s => { s.ticks = xTicks.map(v => ({ value: v })); },
          afterFit: s => { s.height = axisH; s.paddingLeft = 0; s.paddingRight = 0; },
          border: { display: false },
          grid: { display: lastRow, drawOnChartArea: false, tickLength: 7, tickWidth: 2, tickColor: '#333' },
          ticks: { display: lastRow, padding: 5, color: '#4d4d4d', maxRotation: 0, autoSkip: false,
                   font: { size: 23, family: fontFam },
                   callback: v => (v < 0 ? '\u2212' + Math.abs(v) : String(v)) }
        },
        y: {
          type: 'linear', min: yMin, max: yMax, reverse: true,
          afterBuildTicks: s => { s.ticks = iccLevels.map((_, i) => ({ value: i + 1 })); },
          afterFit: s => { s.width = axisW; s.paddingTop = 0; s.paddingBottom = 0; },
          border: { display: false },
          grid: { display: firstCol, drawOnChartArea: false, tickLength: 8, tickWidth: 2, tickColor: '#333' },
          ticks: { display: firstCol, padding: 6, color: '#4d4d4d', autoSkip: false,
                   font: { size: 23, family: fontFam },
                   callback: v => iccLevels[v - 1] }
        }
      }
    },
    plugins: [panelFrame]
  });
};

clusterRows.forEach((_, r) => comparisons.forEach((_, c) => makePanel(r, c)));

// row strips on the left
clusterRows.forEach((lab, r) => {
  addText(lab, 37, rowTop[r] + panelH / 2, { color: '#1a1a1a', transform: 'translate(-50%, -50%) rotate(-90deg)' });
});

// column titles under the axes
comparisons.forEach((lab, c) => {
  const left = colLeft[c], right = colLeft[c] + panelW;
  addText(lab, (left + right) / 2 - 2, 876);
  addText(higherLeft[c], left + 6, 901, { transform: 'translate(0, -50%)' });
  addText(higherRight[c], right, 901, { transform: 'translate(-100%, -50%)' });
});
addText('Relative difference in power', 706, 943, { size: 29 });

// legend
const legendDotX = [588, 681, 793];
const legendTextX = [627, 720, 833];
sizeGroups.forEach((g, i) => {
  const d = document.createElement('div');
  d.className = 'dot';
  d.style.left = legendDotX[i] + 'px';
  d.style.top = '37px';
  d.style.background = groupColours[i];
  document.body.appendChild(d);
  addText(g, legendTextX[i], 37, { size: 23, transform: 'translate(0, -50%)' });
});
</script>
</body>
</html>
